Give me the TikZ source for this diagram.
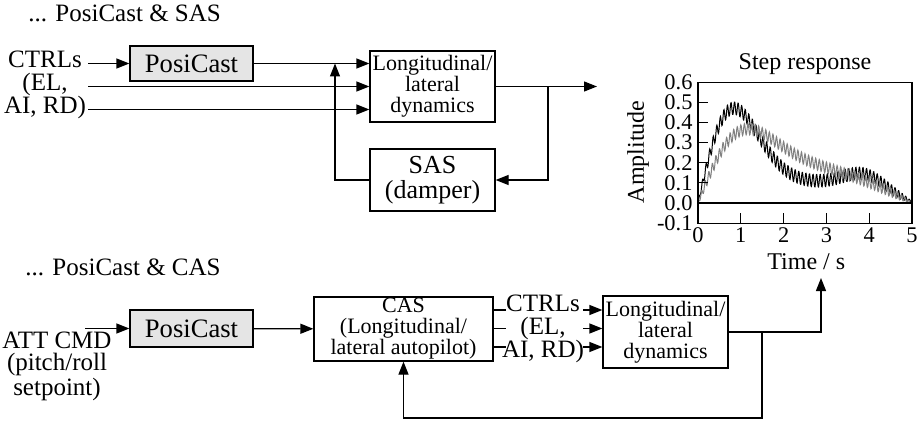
\documentclass[tikz,border=0pt]{standalone}
\usepackage{fontspec}
\setmainfont{Liberation Serif}
\usetikzlibrary{arrows.meta}

\begin{document}
\begin{tikzpicture}[x=0.5pt,y=-0.5pt,every node/.style={align=center,inner sep=0pt},
        txt/.style={font=\fontsize{12.5}{11.5}\selectfont},
        boxtxt/.style={font=\fontsize{11}{10.5}\selectfont},
        block/.style={draw,line width=0.65pt},
        sig/.style={line width=0.65pt,-{Triangle[length=6.5pt,width=5pt]}},
        line/.style={line width=0.65pt}]
        \useasboundingbox (0,0) rectangle (919,422);

        % upper loop: PosiCast & SAS
        \node[txt,anchor=base west] (ttlA) at (28,22) {... PosiCast \& SAS};
        \node[txt] (ctrlA) at (45,85) {CTRLs\\(EL,\\AI, RD)};
        \node[block,fill=gray!20,minimum width=61.5pt,minimum height=17.5pt,font=\fontsize{13.3}{14}\selectfont] (posiA) at (191.5,63.5) {PosiCast};
        \node[block,boxtxt,minimum width=62.5pt,minimum height=35.5pt] (dynA) at (432.5,86.5) {Longitudinal/\\lateral\\dynamics};
        \node[block,font=\fontsize{13}{12.5}\selectfont,minimum width=62.5pt,minimum height=31pt] (sas) at (432.5,180) {SAS\\(damper)};

        \foreach \i/\y in {1/63.5,2/86.5,3/109.5}{\coordinate (inA\i) at (88,\y); }
        \coordinate (fbA) at (335,63.5);
        \coordinate (brA) at (548,86.5);
        \coordinate (outA) at (597,86.5);

        \draw[sig] (inA1) -- (posiA);
        \draw[sig] (posiA.east) -- (posiA.east -| dynA.west);
        \draw[sig] (inA2) -- (inA2 -| dynA.west);
        \draw[sig] (inA3) -- (inA3 -| dynA.west);
        \draw[sig] (dynA.east) -- (outA);
        \draw[sig] (brA) |- (sas.east);
        \draw[sig] (sas.west) -| (fbA);

        % lower loop: PosiCast & CAS
        \node[txt,anchor=base west] (ttlB) at (25,275) {... PosiCast \& CAS};
        \node[txt,font=\fontsize{12.5}{11.25}\selectfont] (att) at (57,366) {ATT CMD\\(pitch/roll\\setpoint)};
        \node[block,fill=gray!20,minimum width=61.5pt,minimum height=18.5pt,font=\fontsize{13.3}{14}\selectfont] (posiB) at (191.5,328.5) {PosiCast};
        \node[block,boxtxt,minimum width=89.5pt,minimum height=32pt] (cas) at (403.5,329) {CAS\\(Longitudinal/\\lateral autopilot)};
        \node[txt] (ctrlB) at (543,328.5) {CTRLs\\(EL,\\AI, RD)};
        \node[block,boxtxt,minimum width=62.5pt,minimum height=36pt] (dynB) at (665.5,332) {Longitudinal/\\lateral\\dynamics};

        \coordinate (inB) at (85,328.5);
        \foreach \i/\y in {1/310,2/328.5,3/347}{\coordinate (stB\i) at (506,\y); \coordinate (arB\i) at (583,\y); }
        \coordinate (brB) at (762,332);
        \coordinate (fbB) at (762,418);
        \coordinate (outB) at (821,278);

        \draw[sig] (inB) -- (posiB);
        \draw[sig] (posiB) -- (cas);
        \foreach \i in {1,2,3}{ \draw[line] (cas.east |- stB\i) -- (stB\i); \draw[sig] (arB\i) -- (dynB.west |- arB\i); }
        \draw[sig] (dynB.east) -| (outB);
        \draw[sig] (brB) -- (fbB) -| (cas.south);

        % step response
        \begin{scope}[shift={(698,203)},x=21.4pt,y=100.5pt,
            declare function={
                slow(\t)=0.87*\t*exp(-\t*\t/1.28)+0.1*sin(36*\t)+0.08*exp(-(\t-3.9)*(\t-3.9)/0.5);
                fast(\t)=0.43*\t*exp(-\t*\t/2)+0.17*sin(36*\t);
                wig(\t)=sin(10*mod(432*\t,36))*(1-exp(-8*\t))*(1-exp(-3*(5-\t)));
            }]
            \draw[line width=0.5pt] plot[domain=0:5,samples=601] (\x,{slow(\x)+0.032*wig(\x)});
            \draw[line width=0.5pt,gray] plot[domain=0:5,samples=601] (\x,{fast(\x)+0.028*wig(\x+0.02)});

            \draw[line width=0.6pt] (0,-0.1) rectangle (5,0.6);
            \draw[line width=0.6pt] (0,0) -- (5,0);
            \foreach \v [count=\i] in {-0.1,0.0,0.1,0.2,0.3,0.4,0.5,0.6}{
                \draw[line width=0.6pt] (0,\v) -- (0.23,\v);
                \node[anchor=east,font=\fontsize{11.2}{12}\selectfont] (ylab\i) at (-0.12,\v) {\v};
            }
            \foreach \t in {1,...,4}{ \draw[line width=0.6pt] (\t,-0.1) -- (\t,-0.05); }
            \foreach \t in {0,...,5}{ \node[font=\fontsize{11.2}{12}\selectfont] (xlab\t) at (\t,-0.16) {\t}; }

            \node[txt,font=\fontsize{12}{12}\selectfont] (ttlP) at (2.5,0.69) {Step response};
            \node[txt,font=\fontsize{12}{12}\selectfont,rotate=90] (amp) at (-1.4,0.254) {Amplitude};
            \node[txt,font=\fontsize{12}{12}\selectfont] (time) at (2.53,-0.294) {Time / s};
        \end{scope}
\end{tikzpicture}
\end{document}
